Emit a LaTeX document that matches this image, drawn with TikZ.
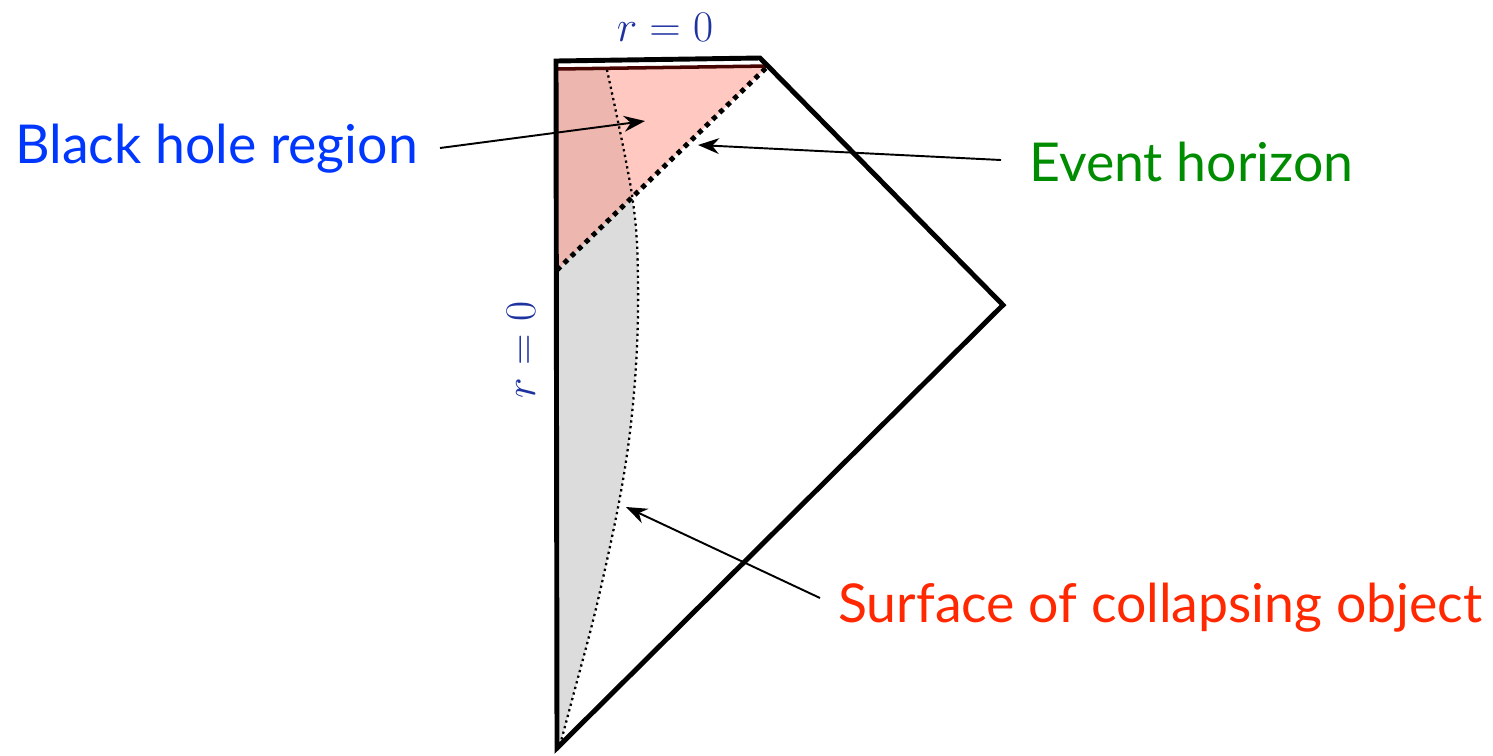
\documentclass[tikz,border=0pt]{standalone}
\usepackage{fontspec}
\setmainfont{Lato}
\usetikzlibrary{positioning,arrows.meta}

\definecolor{rblue}{RGB}{30,50,160}
\definecolor{bhblue}{RGB}{0,55,255}
\definecolor{ehgreen}{RGB}{0,140,0}
\definecolor{surfred}{RGB}{255,40,0}
\definecolor{bhpink}{RGB}{255,145,130}
\definecolor{objgray}{RGB}{220,220,220}
\definecolor{singred}{RGB}{70,5,0}

\tikzset{
  label/.style={font=\fontsize{30.5}{36}\selectfont},
  rlabel/.style={text=rblue,font=\fontsize{28}{32}\selectfont},
  pointer/.style={line width=1.1pt,-{Stealth[length=12pt,width=9pt]}},
}

\begin{document}
\begin{tikzpicture}[x=0.02cm,y=-0.02cm]
  \useasboundingbox (0,0) rectangle (1493,755);

  % punti del diagramma
  \coordinate (top-left) at (556,61);
  \coordinate (top-right) at (760,58);
  \coordinate (right) at (1003,305);
  \coordinate (bottom) at (557,748);
  \coordinate (sing-left) at (557,69);
  \coordinate (sing-right) at (768,66);
  \coordinate (hor-low) at (557,270);

  % regione dell'oggetto che collassa
  \fill[objgray] plot [smooth,tension=0.6] coordinates {(560,745) (572,700) (598,600) (623,480) (635,380) (638,280) (632,195) (607,70)}
    -- (sing-left) -- (bottom) -- cycle;

  % regione del buco nero
  \fill[bhpink,opacity=0.5] (sing-left) -- (sing-right) -- (hor-low) -- cycle;

  % superficie
  \draw[line width=1.3pt,dotted] plot [smooth,tension=0.6] coordinates {(560,745) (572,700) (598,600) (623,480) (635,380) (638,280) (632,195) (607,70)};

  % orizzonte degli eventi
  \draw[line width=2.8pt,dash pattern=on 2.8pt off 2.8pt] (hor-low) -- (sing-right);

  % singolarita
  \draw[singred,line width=2pt] (sing-left) -- (sing-right);

  % bordo
  \draw[line width=2.8pt,line join=miter] (bottom) -- (top-left) -- (top-right) -- (right) -- cycle;

  % etichette r = 0
  \node[rlabel] (r-top) at (665,27) {$r=0$};
  \node[rlabel,rotate=90] (r-left) at (521,350) {$r=0$};

  % etichette con frecce
  \node[label,text=bhblue,anchor=base west,inner sep=0pt] (bh) at (15,163) {Black hole region};
  \node[label,text=ehgreen,anchor=base west,inner sep=0pt] (eh) at (1029,181) {Event horizon};
  \node[label,text=surfred,anchor=base west,inner sep=0pt] (surf) at (838,622) {Surface of collapsing object};

  \coordinate (bh-tip) at (645,121);
  \coordinate (eh-tip) at (698,145);
  \coordinate (surf-tip) at (626,507);

  \draw[pointer] (440,148) -- (bh-tip);
  \draw[pointer] (1001,160) -- (eh-tip);
  \draw[pointer] (820,598) -- (surf-tip);
\end{tikzpicture}
\end{document}
